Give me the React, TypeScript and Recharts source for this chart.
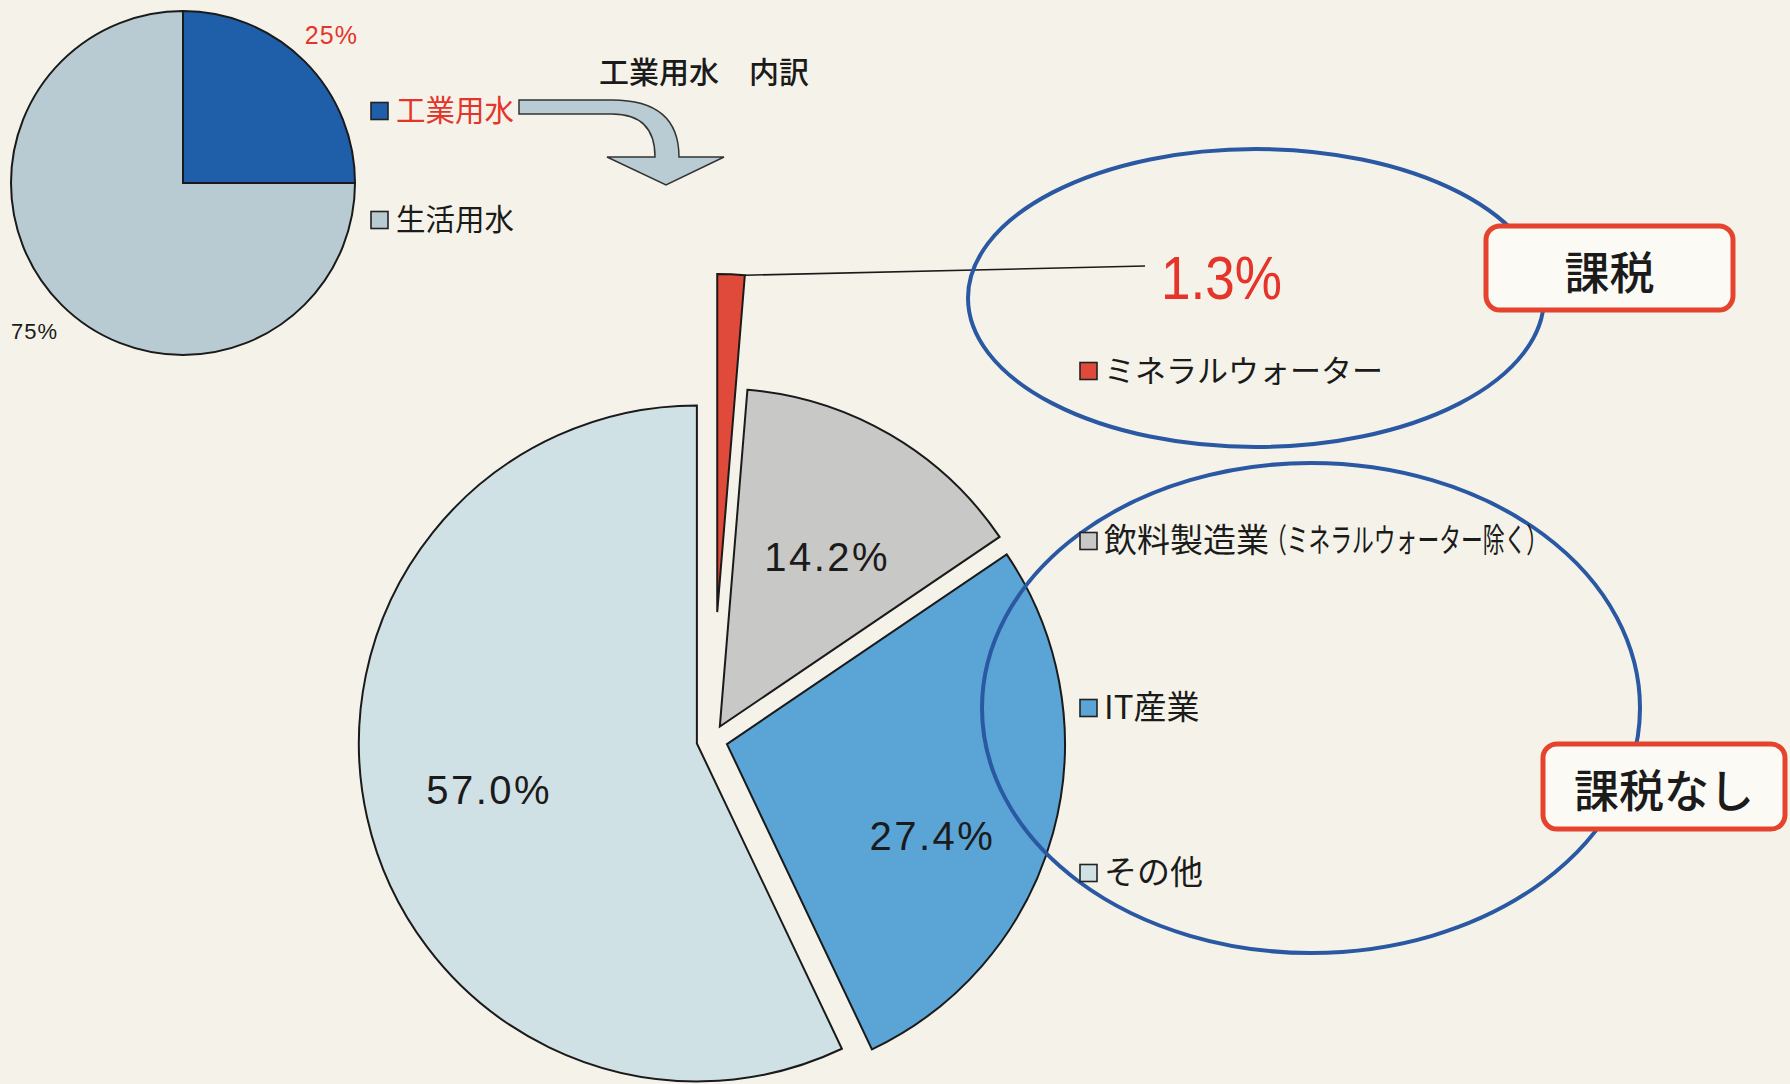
import React from 'react';
import { PieChart, Pie, Cell, Sector } from 'recharts';

const W = 1790;
const H = 1084;

// 用途別の内訳（左上の小さい円）
const useNames = ['工業用水', '生活用水'];
const useShares = [25, 75];
const useColors = ['#1f5ea8', '#b9cbd2'];

// 工業用水 内訳
const industryNames = ['ミネラルウォーター', '飲料製造業（ミネラルウォーター除く）', 'IT産業', 'その他'];
const industryShares = [1.3, 14.2, 27.4, 57.0];
const industryColors = ['#e04a3a', '#c8c8c6', '#5ba4d6', '#d0e1e5'];

const taxGroups = ['課税', '課税なし'];

const BG = '#f5f3e9';
const RED = '#e5352b';
const ELLIPSE_BLUE = '#2b58a2';
const JP = '"Noto Sans CJK JP", "Noto Sans", sans-serif';
const NUM = '"Liberation Sans", Arial, sans-serif';
const RAD = Math.PI / 180;

const PULL_OUT = 128; // mineral water slice is pulled far out
const GAP = 15.5; // the other slices are only slightly separated
const labelNudge = [0, 14, 36, 0];

const useData = useNames.map((name, i) => ({ name, value: useShares[i] }));
const industryData = industryNames.map((name, i) => ({ name, value: industryShares[i] }));

const polar = (cx: number, cy: number, r: number, angle: number) => ({
  x: cx + r * Math.cos(-angle * RAD),
  y: cy + r * Math.sin(-angle * RAD),
});

const pullFor = (name: string) => (name === industryNames[0] ? PULL_OUT : GAP);

const ExplodedSector = (props: any) => {
  const name = props.name ?? props.payload?.name;
  const o = polar(0, 0, pullFor(name), props.midAngle);
  return <Sector {...props} cx={props.cx + o.x} cy={props.cy + o.y} />;
};

const industryLabel = (p: any) => {
  const name = p.name ?? p.payload?.name;
  const idx = industryNames.indexOf(name);
  const o = polar(p.cx, p.cy, pullFor(name), p.midAngle);
  if (idx === 0) {
    const corner = polar(o.x, o.y, p.outerRadius, p.endAngle);
    return (
      <g key={`lbl-${idx}`}>
        <line x1={corner.x} y1={corner.y} x2={1145} y2={266} stroke="#1a1a1a" strokeWidth={1.6} />
        <text x={1161} y={299} fill={RED} fontSize={62} fontFamily={NUM} textLength={121} lengthAdjust="spacingAndGlyphs">
          {`${p.value}%`}
        </text>
      </g>
    );
  }
  const c = polar(o.x, o.y, p.outerRadius * 0.63, p.midAngle);
  return (
    <text
      key={`lbl-${idx}`}
      x={c.x}
      y={c.y + labelNudge[idx]}
      textAnchor="middle"
      dominantBaseline="central"
      fill="#1b1b1b"
      fontSize={40}
      letterSpacing={2.5}
      fontFamily={NUM}
    >
      {`${Number(p.value).toFixed(1)}%`}
    </text>
  );
};

const useLabel = (p: any) => {
  const c = polar(p.cx, p.cy, p.outerRadius * 1.22, p.midAngle);
  const first = p.index === 0 || p.name === useNames[0];
  return (
    <text
      x={c.x}
      y={c.y}
      textAnchor="middle"
      dominantBaseline="central"
      fill={first ? RED : '#1b1b1b'}
      fontSize={first ? 25 : 22}
      letterSpacing={1}
      fontFamily={NUM}
    >
      {`${p.value}%`}
    </text>
  );
};

const LegendSwatch = ({ x, y, color }: { x: number; y: number; color: string }) => (
  <rect x={x} y={y - 8.5} width={17} height={17} fill={color} stroke="#222" strokeWidth={1.6} />
);

const useLegendY = [111, 220];
const industryLegendY = [371, 541, 708, 873];

const TaxBox = ({ x, y, w, h, label }: { x: number; y: number; w: number; h: number; label: string }) => (
  <g>
    <rect x={x} y={y} width={w} height={h} rx={14} fill="#fbfaf4" stroke="#e6432f" strokeWidth={5} />
    <text x={x + w / 2} y={y + h / 2 + 2} textAnchor="middle" dominantBaseline="central" fontSize={45} fontWeight={500} fill="#1b1b1b" fontFamily={JP}>
      {label}
    </text>
  </g>
);

export default function App() {
  return (
    <div style={{ position: 'absolute', left: 0, top: 0, width: W, height: H, background: BG, overflow: 'hidden' }}>
      <PieChart width={W} height={H} margin={{ top: 0, right: 0, bottom: 0, left: 0 }}>
        <Pie
          data={useData}
          dataKey="value"
          nameKey="name"
          cx={183}
          cy={183}
          outerRadius={172}
          startAngle={90}
          endAngle={-270}
          stroke="#1a1a1a"
          strokeWidth={2}
          label={useLabel}
          labelLine={false}
          isAnimationActive={false}
        >
          {useData.map((d, i) => (
            <Cell key={`use-${i}`} fill={useColors[i]} />
          ))}
        </Pie>
        <Pie
          data={industryData}
          dataKey="value"
          nameKey="name"
          cx={712}
          cy={740}
          outerRadius={338}
          startAngle={90}
          endAngle={-270}
          stroke="#1a1a1a"
          strokeWidth={2}
          shape={ExplodedSector}
          label={industryLabel}
          labelLine={false}
          isAnimationActive={false}
        >
          {industryData.map((d, i) => (
            <Cell key={`ind-${i}`} fill={industryColors[i]} />
          ))}
        </Pie>
      </PieChart>

      <svg width={W} height={H} style={{ position: 'absolute', left: 0, top: 0, pointerEvents: 'none' }}>
        <text x={599} y={83} fontSize={30} fontWeight={500} fill="#1b1b1b" fontFamily={JP}>
          工業用水　内訳
        </text>

        {/* curved arrow */}
        <path
          d="M519,100 L612,100 Q679,100 679,157 L724,157 L666,185 L607,157 L655,157 Q655,114 612,114 L519,114 Z"
          fill="#b9ccd3"
          stroke="#333"
          strokeWidth={1.5}
        />

        {useNames.map((n, i) => (
          <g key={`ul-${i}`}>
            <LegendSwatch x={371} y={useLegendY[i]} color={useColors[i]} />
            <text x={396} y={useLegendY[i] + 10} fontSize={29.5} fill={i === 0 ? RED : '#1b1b1b'} fontFamily={JP}>
              {n}
            </text>
          </g>
        ))}

        <ellipse cx={1256} cy={298} rx={288} ry={149} fill="none" stroke={ELLIPSE_BLUE} strokeWidth={4} />
        <ellipse cx={1311} cy={708} rx={329} ry={245} fill="none" stroke={ELLIPSE_BLUE} strokeWidth={4} />

        {industryNames.map((n, i) => {
          const y = industryLegendY[i];
          const cut = n.indexOf('（');
          const size = i === 0 ? 31 : 33;
          return (
            <g key={`il-${i}`}>
              <LegendSwatch x={1080} y={y} color={industryColors[i]} />
              {cut < 0 ? (
                <text x={1104} y={y + 11} fontSize={size} fill="#1b1b1b" fontFamily={JP}>
                  {n}
                </text>
              ) : (
                <>
                  <text x={1104} y={y + 11} fontSize={size} fill="#1b1b1b" fontFamily={JP}>
                    {n.slice(0, cut)}
                  </text>
                  <text x={1265} y={y + 11} fontSize={size} fill="#1b1b1b" fontFamily={JP} textLength={283} lengthAdjust="spacingAndGlyphs">
                    {n.slice(cut)}
                  </text>
                </>
              )}
            </g>
          );
        })}

        <TaxBox x={1486} y={226} w={247} h={84} label={taxGroups[0]} />
        <TaxBox x={1543} y={744} w={242} h={85} label={taxGroups[1]} />
      </svg>
    </div>
  );
}
